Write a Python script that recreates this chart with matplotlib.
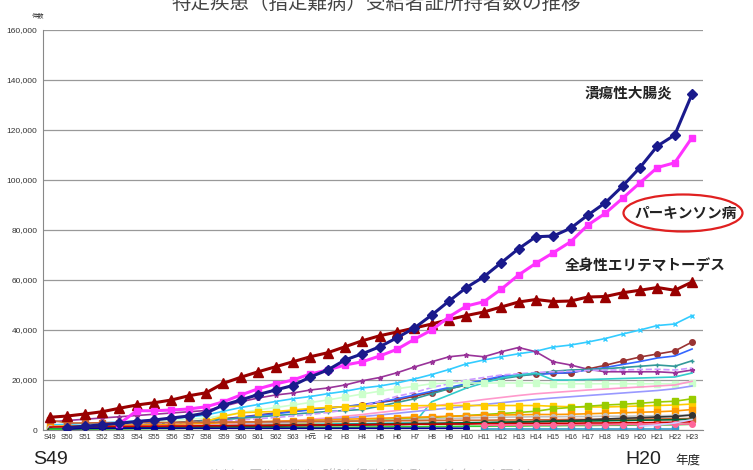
import numpy as np
import matplotlib
matplotlib.use("Agg")
import matplotlib.pyplot as plt
from matplotlib.patches import Ellipse
from matplotlib.ticker import FuncFormatter

plt.rcParams["font.family"] = ["Liberation Sans", "Noto Sans CJK JP", "DejaVu Sans"]
JP = ["Noto Sans CJK JP", "DejaVu Sans"]

# 年度ラベル（S49〜S63, H元〜H23）
years = ["S49", "S50", "S51", "S52", "S53", "S54", "S55", "S56", "S57", "S58",
         "S59", "S60", "S61", "S62", "S63", "H元", "H2", "H3", "H4", "H5",
         "H6", "H7", "H8", "H9", "H10", "H11", "H12", "H13", "H14", "H15",
         "H16", "H17", "H18", "H19", "H20", "H21", "H22", "H23"]

# 主な3疾患
uc = [None, 1000, 1500, 2100, 2700, 3400, 4000, 4800, 5600, 6800,
      10000, 12000, 14200, 16000, 17800, 21200, 24000, 28000, 30500, 33300,
      36900, 40800, 46000, 51600, 57000, 61300, 66900, 72500, 77300, 77600,
      80700, 86000, 90900, 97600, 105000, 113600, 118000, 134400]
parkinson = [None, None, None, None, 2500, 7700, 7700, 8000, 8400, 9300,
             11300, 14000, 16500, 18400, 20000, 22400, 24000, 26000, 27300, 29600,
             32300, 36300, 40000, 45300, 49600, 51300, 56300, 62000, 66700, 70900,
             75300, 82000, 86700, 92700, 98900, 105000, 106900, 117000]
sle = [5100, 5600, 6400, 7300, 8700, 10000, 10900, 12000, 13700, 14900,
       18700, 21100, 23300, 25300, 27300, 29300, 30900, 33300, 35700, 37700,
       39200, 40800, 42400, 44200, 45800, 47200, 49200, 51200, 52200, 51400,
       51600, 53200, 53400, 54900, 55900, 57000, 55900, 59200]

# その他の疾患
other_cyan = [2000, 2300, 2600, 2900, 3200, 3600, 4000, 4500, 5200, 6000,
              7500, 9000, 10200, 11400, 12500, 13400, 14500, 15500, 16800, 17600,
              18800, 20400, 22200, 24200, 26500, 28000, 29300, 30500, 31500, 33200,
              34000, 35200, 36600, 38400, 40000, 41800, 42400, 45800]
other_purple = [3200, 3800, 4300, 4800, 5300, 5800, 6300, 6800, 7300, 7800,
                9500, 11300, 12800, 14000, 14800, 16000, 16800, 18000, 19700, 21000,
                22900, 25200, 27300, 29300, 30000, 29300, 31300, 33000, 31300, 27300,
                26000, 24300, 23300, 23300, 23300, 23300, 22900, 24000]
other_darkred = [300, 600, 900, 1200, 1600, 2000, 2400, 2900, 3400, 3900,
                 4500, 5200, 6000, 6800, 7500, 8200, 8800, 9400, 10000, 11000,
                 12000, 13500, 15000, 16500, 18000, 19500, 21000, 22000, 22400, 22800,
                 22800, 24400, 25900, 27600, 29200, 30400, 31600, 35200]
other_blue = [200, 400, 700, 1000, 1300, 1700, 2100, 2600, 3100, 3600,
              4300, 5000, 5800, 6500, 7300, 8000, 8700, 9400, 10200, 11200,
              12500, 14000, 15500, 17000, 18500, 20000, 21500, 22000, 22300, 22600,
              23000, 24000, 25000, 26200, 27400, 28800, 29600, 32400]
other_teal = [500, 800, 1100, 1400, 1700, 2000, 2400, 2800, 3200, 3700,
              4200, 4700, 5200, 5800, 6300, 6900, 7400, 7800, 8200, 9500,
              11000, 12500, 14500, 16500, 18000, 19500, 20500, 21500, 22500, 23500,
              24000, 24200, 24500, 25000, 25500, 26000, 25500, 27700]
other_lavender = [1000, 1200, 1400, 1600, 1800, 2000, 2300, 2600, 2900, 3200,
                  3600, 4000, 4500, 5000, 5600, 6200, 7000, 8000, 9500, 11500,
                  13500, 15000, 17000, 18500, 20000, 21000, 22000, 22500, 23000, 23300,
                  23500, 23800, 24000, 24000, 24200, 24300, 24000, 24800]
other_aqua = [800, 900, 1000, 1100, 1200, 1300, 1400, 1500, 1600, 1700,
              1800, 1900, 2000, 2100, 2200, 2300, 2400, 2500, 2600, 2700,
              2800, 2800, 11300, 14000, 16800, 18800, 20800, 22000, 22800, 20000,
              20000, 20200, 20400, 20600, 20800, 21000, 21200, 22800]
other_palegreen = [1200, 1500, 1800, 2200, 2600, 3000, 3400, 3800, 4300, 4800,
                   5800, 7000, 8000, 9000, 10000, 11000, 12000, 13200, 14400, 15500,
                   16500, 17500, 18500, 18800, 18800, 18800, 18800, 18800, 18800, 18500,
                   18500, 18500, 18500, 18500, 18500, 18500, 18500, 19000]
other_pink = [600, 700, 800, 900, 1000, 1200, 1400, 1600, 1800, 2000,
              2300, 2600, 3000, 3400, 3800, 4300, 4800, 5500, 6200, 7000,
              7800, 8600, 9500, 10400, 11300, 12200, 13000, 13800, 14500, 15000,
              15500, 16000, 16400, 16800, 17200, 17600, 18000, 19500]
other_lavblue = [400, 500, 600, 700, 800, 900, 1000, 1200, 1400, 1600,
                 1900, 2200, 2500, 2900, 3300, 3800, 4300, 4800, 5400, 6000,
                 6700, 7400, 8100, 8800, 9500, 10200, 10900, 11600, 12200, 12800,
                 13300, 13800, 14300, 14800, 15300, 15800, 16500, 17600]
other_yellow = [None, None, None, None, None, None, None, None, None, 3500,
                5500, 6900, 7200, 7400, 8000, 8600, 9000, 9300, 9600, 9600,
                9700, 9700, 9800, 9800, 9800, 9800, 9800, 9800, 9800, 9500,
                9300, 9200, 9200, 9400, 9600, 9800, 10000, 10400]
other_lime = [300, 400, 500, 600, 700, 800, 900, 1000, 1200, 1400,
              1600, 1800, 2000, 2300, 2600, 2900, 3200, 3500, 3800, 4100,
              4400, 4700, 5000, 5400, 5800, 6200, 6600, 7000, 7500, 8500,
              9000, 9500, 10000, 10300, 10700, 11200, 11500, 12500]
other_orange = [1500, 1600, 1700, 1800, 1900, 2000, 2100, 2200, 2400, 2600,
                2900, 3100, 3300, 3500, 3700, 3900, 4100, 4300, 4500, 4700,
                4900, 5100, 5300, 5500, 5700, 5900, 6000, 6100, 6200, 6200,
                6300, 6500, 6700, 6900, 7100, 7300, 7600, 8200]
other_gray = [1000, 1100, 1200, 1300, 1400, 1500, 1600, 1700, 1800, 1900,
              2000, 2200, 2400, 2600, 2800, 3000, 3200, 3400, 3600, 3800,
              4000, 4200, 4400, 4600, 4800, 5000, 5100, 5200, 5300, 5300,
              5400, 5400, 5500, 5500, 5600, 5700, 5800, 6200]
other_brown = [4000, 2800, 2800, 2900, 2900, 3000, 3000, 3000, 3100, 3100,
               3200, 3200, 3300, 3300, 3400, 3400, 3500, 3500, 3600, 3600,
               3700, 3700, 3800, 3800, 3900, 3900, 4000, 4000, 4100, 4100,
               4200, 4200, 4300, 4300, 4400, 4400, 4500, 4600]
other_dark = [200, 300, 400, 500, 600, 700, 800, 900, 1000, 1100,
              1200, 1300, 1400, 1500, 1600, 1700, 1800, 1900, 2000, 2100,
              2200, 2300, 2400, 2500, 2600, 2800, 3000, 3200, 3400, 3600,
              3800, 4100, 4400, 4700, 4900, 5200, 5400, 6000]
other_dgreen = [500, 600, 700, 800, 900, 1000, 1100, 1200, 1300, 1400,
                1500, 1600, 1700, 1800, 1900, 2000, 2100, 2200, 2300, 2400,
                2500, 2600, 2700, 2800, 2900, 3000, 3100, 3200, 3300, 3400,
                3500, 3600, 3700, 3800, 3900, 4000, 4100, 4300]
other_red = [1200, 1300, 1300, 1400, 1400, 1500, 1500, 1600, 1600, 1700,
             1700, 1800, 1800, 1900, 1900, 2000, 2000, 2100, 2100, 2200,
             2200, 2300, 2300, 2400, 2400, 2500, 2500, 2600, 2600, 2700,
             2700, 2800, 2800, 2900, 2900, 3000, 3100, 3300]
other_navy = [None, 300, 700, 700, 700, 700, 700, 700, 700, 700,
              700, 700, 700, 700, 700, 700, 700, 700, 700, 700,
              700, 700, 700, 700, 700, None, None, None, None, None,
              None, None, None, None, None, None, None, None]
other_tealsq = [None, None, None, None, None, None, None, None, None, None,
                None, None, None, None, None, None, None, None, None, None,
                None, None, None, None, None, 600, 600, 600, 600, 600,
                600, 600, 600, 600, 600, 600, 600, None]
other_rose = [None, None, None, None, None, None, None, None, None, None,
              None, None, None, None, None, None, None, None, None, None,
              None, None, None, None, None, 1900, 1900, 2000, 2000, 2000,
              2100, 2100, 2100, 2200, 2200, 2200, 2300, 2400]
other_green = [300, 300, 400, 400, 500, 500, 600, 600, 700, 700,
               800, 800, 900, 900, 1000, 1000, 1100, 1100, 1200, 1200,
               1300, 1300, 1400, 1400, 1500, 1500, 1600, 1600, 1700, 1700,
               1800, 1800, 1900, 1900, 2000, 2000, 2100, 2300]
other_lilac = [None, None, None, None, None, None, None, None, None, None,
               None, None, None, None, None, None, None, None, None, None,
               None, None, None, None, None, None, None, None, None, None,
               None, None, None, None, 1500, 2000, 2800, 4200]

others = [
    (other_cyan, "#33CCFF", "x", "-"),
    (other_purple, "#993399", "*", "-"),
    (other_darkred, "#993333", "o", "-"),
    (other_blue, "#3366FF", "", "-"),
    (other_teal, "#339999", "+", "-"),
    (other_lavender, "#CC99FF", "", "--"),
    (other_aqua, "#33CCCC", "", "-"),
    (other_palegreen, "#CCFFCC", "s", "-"),
    (other_pink, "#FF99CC", "", "-"),
    (other_lavblue, "#9999FF", "", "-"),
    (other_yellow, "#FFCC00", "s", "-"),
    (other_lime, "#99CC00", "s", "-"),
    (other_orange, "#FF9900", "s", "-"),
    (other_gray, "#C0C0C0", "o", "-"),
    (other_brown, "#CC6633", "s", "-"),
    (other_dark, "#333333", "o", "-"),
    (other_dgreen, "#006633", "", "-"),
    (other_red, "#CC0000", "", "-"),
    (other_green, "#33CC33", "", "-"),
    (other_navy, "#000099", "o", "-"),
    (other_tealsq, "#3399CC", "s", "-"),
    (other_rose, "#FF6699", "o", "-"),
    (other_lilac, "#CCCCFF", "", "-"),
]

x = np.arange(len(years))

fig = plt.figure(figsize=(7.53, 4.70), dpi=100)
ax = fig.add_axes([0.0571, 0.0851, 0.8765, 0.851])

for vals, col, mk, ls in others:
    y = np.array(vals, dtype=float)
    ms = 4 if mk in ("s", "o") else 3.5
    ax.plot(x, y, color=col, lw=1.2, ls=ls, marker=mk if mk else None,
            ms=ms, mew=1.0, zorder=2)

ax.plot(x, np.array(sle, dtype=float), color="#990000", lw=2.2,
        marker="^", ms=7.5, zorder=4)
ax.plot(x, np.array(parkinson, dtype=float), color="#FF33FF", lw=2.2,
        marker="s", ms=4.5, zorder=5)
ax.plot(x, np.array(uc, dtype=float), color="#1A1A8C", lw=2.2,
        marker="D", ms=5.5, zorder=6)

ax.set_xlim(-0.4, 37.63)
ax.set_ylim(0, 160000)
ax.set_yticks(np.arange(0, 160001, 20000))
ax.yaxis.set_major_formatter(FuncFormatter(lambda v, p: f"{int(v):,}"))
ax.set_xticks(x)
ax.set_xticklabels(years)
ax.tick_params(axis="both", length=0, labelsize=5, colors="#333333", pad=3)
ax.tick_params(axis="y", labelsize=6, pad=4)
ax.grid(axis="y", color="#999999", lw=0.9)
ax.set_axisbelow(True)
for s in ("top", "right"):
    ax.spines[s].set_visible(False)
ax.spines["left"].set_color("#888888")
ax.spines["bottom"].set_color("#888888")

# タイトル（上端で切れている）
fig.text(0.5, 1 - 3.5 / 470, "特定疾患（指定難病）受給者証所持者数の推移",
         ha="center", va="center", fontsize=14, color="#444444", family=JP)
fig.text(38 / 753, 1 - 15 / 470, "件数", ha="center", va="center",
         fontsize=4.5, color="#333333", family=JP)

# 疾患名
fig.text(628 / 753, 1 - 92 / 470, "潰瘍性大腸炎", ha="center", va="center",
         fontsize=10.5, fontweight="bold", color="#222222", family=JP)
fig.text(686 / 753, 1 - 213 / 470, "パーキンソン病", ha="center", va="center",
         fontsize=10.5, fontweight="bold", color="#222222", family=JP)
fig.add_artist(Ellipse((683 / 753, 1 - 213 / 470), 119 / 753, 37 / 470,
                       transform=fig.transFigure, fill=False,
                       edgecolor="#E02020", lw=1.6))
fig.text(645 / 753, 1 - 266 / 470, "全身性エリテマトーデス", ha="center",
         va="center", fontsize=10.5, fontweight="bold", color="#222222",
         family=JP)

# 下部の年度表示
fig.text(51 / 753, 1 - 460 / 470, "S49", ha="center", va="center",
         fontsize=14, color="#222222")
fig.text(643 / 753, 1 - 459 / 470, "H20", ha="center", va="center",
         fontsize=14, color="#222222")
fig.text(688 / 753, 1 - 460 / 470, "年度", ha="center", va="center",
         fontsize=9, color="#222222", family=JP)
fig.text(375 / 753, 1 - 477 / 470, "資料：厚生労働省「衛生行政報告例」（各年度末現在）",
         ha="center", va="center", fontsize=9.5, color="#BBBBBB", family=JP)

fig.savefig("out.png", dpi=100)
